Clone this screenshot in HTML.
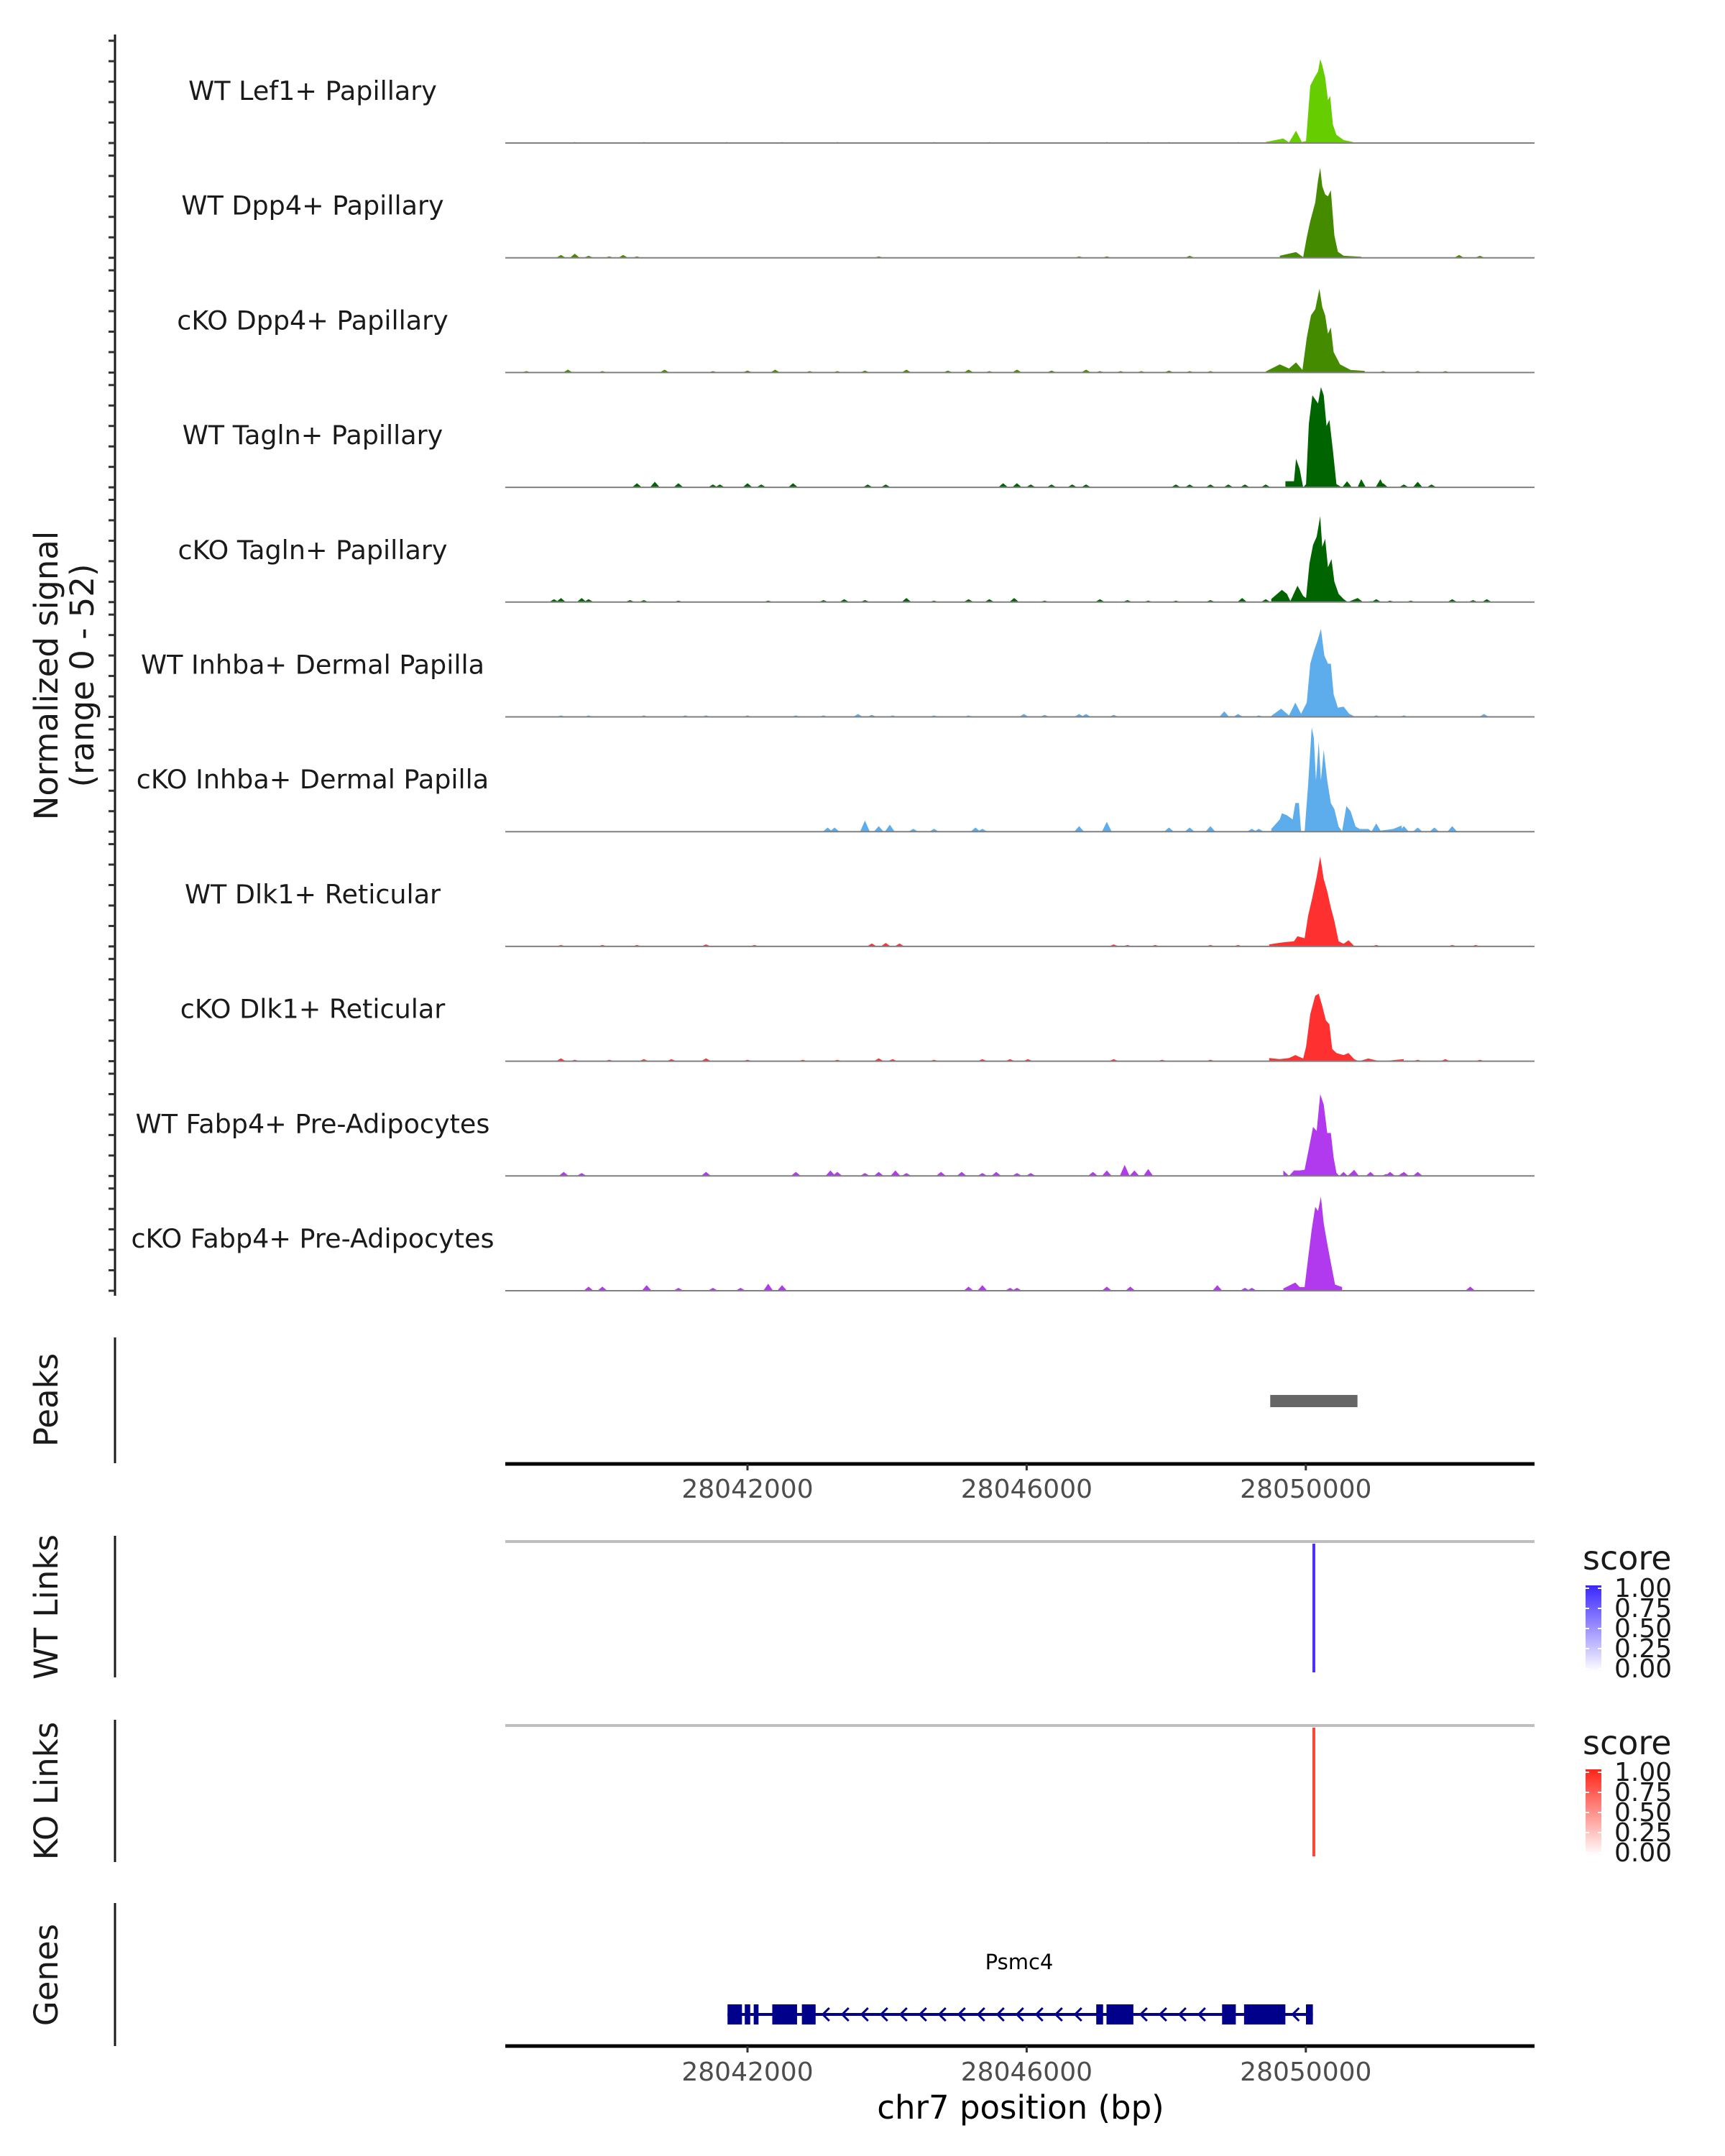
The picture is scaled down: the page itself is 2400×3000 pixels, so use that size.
<!DOCTYPE html>
<html><head><meta charset="utf-8"><style>
html,body{margin:0;padding:0;background:#fff;}
svg{display:block;font-family:"DejaVu Sans","Liberation Sans",sans-serif;}
</style></head><body>
<svg id="chart" width="2400" height="3000" viewBox="0 0 2400 3000" xmlns="http://www.w3.org/2000/svg">
<defs>
<linearGradient id="gwt" x1="0" y1="1" x2="0" y2="0"><stop offset="0" stop-color="#ffffff"/><stop offset="1" stop-color="#3a26ff"/></linearGradient>
<linearGradient id="gko" x1="0" y1="1" x2="0" y2="0"><stop offset="0" stop-color="#ffffff"/><stop offset="1" stop-color="#ff2418"/></linearGradient>
</defs>
<g font-size="45" fill="#1a1a1a" text-anchor="middle">
<text x="80" y="940" transform="rotate(-90 80 940)">Normalized signal</text>
<text x="130" y="940" transform="rotate(-90 130 940)">(range 0 - 52)</text>
</g>
<line x1="160" y1="48" x2="160" y2="1803" stroke="#1a1a1a" stroke-width="3"/>
<text x="80" y="1948" font-size="45" fill="#1a1a1a" text-anchor="middle" transform="rotate(-90 80 1948)">Peaks</text>
<line x1="160" y1="1861" x2="160" y2="2036" stroke="#1a1a1a" stroke-width="3"/>
<text x="80" y="2236" font-size="45" fill="#1a1a1a" text-anchor="middle" transform="rotate(-90 80 2236)">WT Links</text>
<line x1="160" y1="2137" x2="160" y2="2334" stroke="#1a1a1a" stroke-width="3"/>
<text x="80" y="2492" font-size="45" fill="#1a1a1a" text-anchor="middle" transform="rotate(-90 80 2492)">KO Links</text>
<line x1="160" y1="2393" x2="160" y2="2591" stroke="#1a1a1a" stroke-width="3"/>
<text x="80" y="2748" font-size="45" fill="#1a1a1a" text-anchor="middle" transform="rotate(-90 80 2748)">Genes</text>
<line x1="160" y1="2648" x2="160" y2="2847" stroke="#1a1a1a" stroke-width="3"/>
<text x="1420" y="2948" font-size="45" fill="#000" text-anchor="middle">chr7 position (bp)</text>
<text x="2202" y="2184" font-size="46" fill="#1a1a1a">score</text>
<text x="2202" y="2441" font-size="46" fill="#1a1a1a">score</text>
</svg>
<script>
// ---- track metadata ----
const trackNames = ["WT Lef1+ Papillary","WT Dpp4+ Papillary","cKO Dpp4+ Papillary","WT Tagln+ Papillary","cKO Tagln+ Papillary","WT Inhba+ Dermal Papilla","cKO Inhba+ Dermal Papilla","WT Dlk1+ Reticular","cKO Dlk1+ Reticular","WT Fabp4+ Pre-Adipocytes","cKO Fabp4+ Pre-Adipocytes"];
const trackColors = ["#66cd00","#458b00","#458b00","#006400","#006400","#5dadec","#5dadec","#ff3030","#ff3030","#b23aee","#b23aee"];
const xTicks = [28042000,28046000,28050000];
const yTicks = [0,10,20,30,40,50];

// ---- signal data (bp, normalized signal) ----
const lef1WtPos = [28049424,28049678,28049759,28049860,28049942,28050003,28050064,28050124,28050175,28050206,28050236,28050277,28050317,28050348,28050388,28050439,28050541,28050693,28050845];
const lef1WtVal = [0.5,2.2,0.3,6,0.5,1,28,32,35,41,38,32,21,23,9,4,1.5,0.3,0.2];
const lef1WtBumpPos = [28039525,28040515,28041703,28042495,28043287,28044673,28045465,28047148,28047742,28048039,28049029];
const lef1WtBumpVal = [0.5,0.5,0.5,0.5,0.5,0.5,0.5,0.5,0.5,0.5,0.5];

const dpp4WtPos = [28049627,28049860,28049962,28050013,28050064,28050135,28050175,28050206,28050236,28050277,28050317,28050358,28050409,28050459,28050541,28050794];
const dpp4WtVal = [1,2.8,0.3,10,18,27,38,44,35,31,30,33,11,3,1,0.5];
const dpp4WtBumpPos = [28039327,28039525,28039723,28040020,28040218,28040416,28043881,28046752,28047148,28048336,28052197,28052494];
const dpp4WtBumpVal = [1.4,2,1,0.7,1.4,0.7,0.7,0.7,0.7,1,1.4,1];

const dpp4KoPos = [28049424,28049627,28049759,28049860,28049952,28050013,28050074,28050135,28050195,28050236,28050277,28050317,28050358,28050399,28050490,28050642,28050845];
const dpp4KoVal = [0.5,4,2,5,1.3,17,28,31,41,32,28,19,22,10,4,1.3,0.8];
const dpp4KoBumpPos = [28038832,28039426,28039921,28040812,28041505,28042000,28042396,28042891,28043287,28043683,28044277,28044871,28045168,28045465,28045861,28046356,28046851,28047049,28047346,28047643,28048039,28048336,28048633,28051108,28051603,28051999];
const dpp4KoBumpVal = [0.7,1.4,0.7,1.4,0.7,1,1.4,0.7,0.7,1,1.4,1,1.4,0.7,1.4,1,1.4,0.7,0.7,0.7,1,0.7,0.7,0.7,0.7,0.7];

const taglnWtPos = [28049708,28049830,28049860,28049911,28049962,28050003,28050043,28050094,28050135,28050175,28050216,28050256,28050297,28050338,28050388,28050439,28050520,28050591,28050660,28050740,28050794,28050860,28051000,28051068,28051130];
const taglnWtVal = [3,3,14,9,0,1.5,31,45,43,41,49,45,30,33,18,1.5,0,3,0,0,4,0,0,4,0];
const taglnWtBumpPos = [28040416,28040673,28041010,28041505,28041604,28042000,28042198,28042653,28043723,28043980,28045663,28045861,28046059,28046356,28046653,28046851,28048138,28048336,28048633,28048890,28049128,28049425,28051108,28051405,28051603,28051801];
const taglnWtBumpVal = [2,2.7,2,1.4,1.4,2,1.4,2,1.4,1.4,2,2,1.4,1.4,1.4,1.4,1.4,1.4,1.4,1.4,1.4,1.4,2,1.4,2.7,1.4];

const taglnKoPos = [28049505,28049657,28049729,28049779,28049881,28049962,28050003,28050053,28050104,28050155,28050206,28050236,28050277,28050317,28050368,28050409,28050470,28050541,28050600,28050744,28050820,28050947];
const taglnKoVal = [1.5,6,4,0.5,8,3,2,19,28,32,42,27,31,17,21,10,4,1.5,0,2,0,0.5];
const taglnKoBumpPos = [28039228,28039327,28039624,28039723,28040317,28040515,28041010,28042297,28043089,28043386,28043683,28044277,28044673,28045168,28045465,28045821,28046257,28047049,28047445,28047742,28048138,28048633,28049088,28049425,28051009,28051207,28051504,28052098,28052395,28052593];
const taglnKoBumpVal = [1.4,2,2,1.4,1,1,0.7,0.7,1,1.4,1,2,0.7,1.4,1.4,2,0.7,1.4,1,0.7,0.7,1,2,1.4,1.4,0.7,0.7,1.4,1,1.4];

const inhbaWtPos = [28049505,28049647,28049759,28049850,28049932,28050013,28050064,28050114,28050165,28050216,28050266,28050317,28050358,28050399,28050459,28050541,28050622,28050693];
const inhbaWtVal = [0.5,4,0.7,7,1.5,7,26,32,37,43,30,26,26,11,4.5,5,1.5,0.3];
const inhbaWtBumpPos = [28039327,28039723,28040515,28041109,28041406,28042000,28042693,28043089,28043584,28043782,28044079,28044673,28045168,28045960,28046257,28046752,28046851,28047247,28048831,28049029,28049326,28051009,28051405,28052553];
const inhbaWtBumpVal = [0.7,0.7,0.7,0.7,0.7,0.7,0.7,0.7,1.4,1,0.7,0.7,0.7,1.4,1,1.4,1.4,1,2.7,1.4,0.7,0.7,0.7,1.4];

const inhbaKoPos = [28049505,28049627,28049657,28049729,28049810,28049850,28049901,28049932,28049982,28050033,28050084,28050114,28050145,28050185,28050216,28050256,28050307,28050358,28050409,28050470,28050520,28050581,28050642,28050713,28050774,28050896,28050947,28051251,28051373];
const inhbaKoVal = [1.3,6,9,8,6,14,14,0,0,23,51,46,25,44,25,40,25,14,11,2.5,0.2,12.5,10,2.5,1.3,1.3,0,1.3,3];
const inhbaKoBumpPos = [28043148,28043247,28043683,28043881,28044039,28044376,28044673,28045267,28045366,28046752,28047148,28048039,28048336,28048633,28049227,28049326,28051009,28051306,28051405,28051603,28051841,28052098];
const inhbaKoBumpVal = [2,2,5.4,2.7,3.4,1.4,1.4,2,1.4,2.7,4.8,2,2,2.7,1.4,1.4,4,2,2.7,2,2,2.7];

const dlk1WtPos = [28049475,28049678,28049830,28049881,28049982,28050033,28050094,28050155,28050206,28050256,28050307,28050358,28050409,28050470,28050541,28050612,28050693];
const dlk1WtVal = [1,2,2.5,5,4,15,24,34,44,33,27,19,12.5,2.5,1.3,3,0.2];
const dlk1WtBumpPos = [28039327,28039921,28040416,28041406,28042099,28043782,28043980,28044178,28047247,28047445,28047841,28048633,28049029,28051009,28052098,28052435];
const dlk1WtBumpVal = [0.7,0.7,0.7,1,0.7,1.4,1.7,1.4,1,0.7,0.7,0.7,0.7,0.7,0.7,0.7];

const dlk1KoPos = [28049475,28049627,28049759,28049850,28049962,28050003,28050064,28050135,28050185,28050236,28050287,28050338,28050378,28050439,28050541,28050612,28050693,28050760,28050896,28050997,28051100,28051403];
const dlk1KoVal = [1.5,1,1.5,3,1.3,7,23,32,33,27,20,18,6,4,3,4,1,0,1.3,0.5,0,1];
const dlk1KoBumpPos = [28039327,28039525,28040020,28040515,28040911,28041406,28042000,28042792,28043287,28043881,28044079,28044673,28045366,28045762,28046019,28047247,28047940,28048633,28051603,28051999,28052494];
const dlk1KoBumpVal = [1.4,0.7,0.7,1,1,1.4,0.7,0.7,0.7,1.4,1,0.7,1,1,1,1,0.7,0.7,0.7,1,0.7];

const fabp4WtPos = [28049678,28049759,28049830,28049911,28049982,28050053,28050104,28050155,28050206,28050256,28050307,28050358,28050399,28050439,28050480,28050541,28050600,28050693,28050760,28050860,28050926,28050990,28051090,28051149,28051210,28051320,28051383,28051450];
const fabp4WtVal = [2.7,0,2.7,2.7,3,15,24,22,40,35,21,21,9,1.5,0,2,0,3,0,0,2,0,0,1,0,0,1.5,0];
const fabp4WtBumpPos = [28039367,28039624,28041406,28042693,28043188,28043287,28043683,28043881,28044119,28044277,28044772,28045069,28045366,28045564,28045861,28046059,28046950,28047148,28047405,28047544,28047742,28051207,28051405,28051603];
const fabp4WtBumpVal = [2,1.4,2,2,2.7,2,1.4,2,2.7,1.4,2,2,1.4,2,1.4,1.4,2,2.7,5.4,2.7,3.4,2,2,2];

const fabp4KoPos = [28049678,28049850,28049911,28049982,28050033,28050084,28050135,28050175,28050216,28050256,28050307,28050368,28050419,28050520];
const fabp4KoVal = [1.1,4,1.8,1.8,16,30,41,39,46,33,23,12,3,1.8];
const fabp4KoBumpPos = [28039723,28039921,28040555,28041010,28041505,28041901,28042297,28042495,28045168,28045366,28045762,28045861,28047148,28047485,28048732,28049128,28049227,28052355];
const fabp4KoBumpVal = [2,2,2.7,1.4,1.4,1.4,3.4,2.7,2,2.7,1.4,1.4,2,2,2.7,1.4,1.4,2];

const mainPos = [lef1WtPos,dpp4WtPos,dpp4KoPos,taglnWtPos,taglnKoPos,inhbaWtPos,inhbaKoPos,dlk1WtPos,dlk1KoPos,fabp4WtPos,fabp4KoPos];
const mainVal = [lef1WtVal,dpp4WtVal,dpp4KoVal,taglnWtVal,taglnKoVal,inhbaWtVal,inhbaKoVal,dlk1WtVal,dlk1KoVal,fabp4WtVal,fabp4KoVal];
const bumpPos = [lef1WtBumpPos,dpp4WtBumpPos,dpp4KoBumpPos,taglnWtBumpPos,taglnKoBumpPos,inhbaWtBumpPos,inhbaKoBumpPos,dlk1WtBumpPos,dlk1KoBumpPos,fabp4WtBumpPos,fabp4KoBumpPos];
const bumpVal = [lef1WtBumpVal,dpp4WtBumpVal,dpp4KoBumpVal,taglnWtBumpVal,taglnKoBumpVal,inhbaWtBumpVal,inhbaKoBumpVal,dlk1WtBumpVal,dlk1KoBumpVal,fabp4WtBumpVal,fabp4KoBumpVal];

// ---- peaks, links, genes ----
const peakStarts = [28049490];
const peakEnds = [28050740];
const wtLinkPos = [28050115];
const wtLinkScore = [1.0];
const koLinkPos = [28050115];
const koLinkScore = [0.9];
const legendTicks = [1.00,0.75,0.50,0.25,0.00];
const geneName = "Psmc4";
const geneStart = 28041714;
const geneEnd = 28050101;
const exonStarts = [28041714,28041961,28042089,28042355,28042779,28046997,28047144,28048800,28049115,28050002];
const exonEnds = [28041921,28042039,28042158,28042710,28042976,28047095,28047529,28048997,28049707,28050101];

// ---- rendering ----
const NS = 'http://www.w3.org/2000/svg';
const svg = document.getElementById('chart');
function mk(tag, attrs, parent){const e=document.createElementNS(NS,tag);for(const k in attrs)e.setAttribute(k,attrs[k]);(parent||svg).appendChild(e);return e;}
const X0 = 28042000, XPX = 1040, PX_PER_BP = 0.0971;
const PLOT_L = 703, PLOT_R = 2135;
function xs(bp){return XPX + (bp - X0) * PX_PER_BP;}
const TRACK_TOP = 199, TRACK_STEP = 159.7, UNIT_PX = 2.846;
function baseY(i){return TRACK_TOP + i * TRACK_STEP;}
function ys(i, v){return baseY(i) - v * UNIT_PX;}

for (let i = 0; i < trackNames.length; i++) {
  const g = mk('g', {});
  
  
  const b = baseY(i);
  for (let k = 0; k < yTicks.length; k++) {
    const t = mk('line', {x1:151, x2:160, y1:ys(i,yTicks[k]), y2:ys(i,yTicks[k]), stroke:'#333', 'stroke-width':3}, g);
    
    
  }
  const P = mainPos[i], V = mainVal[i];
  let pts = xs(P[0]).toFixed(1) + ',' + b;
  for (let j = 0; j < P.length; j++) pts += ' ' + xs(P[j]).toFixed(1) + ',' + ys(i, V[j]).toFixed(1);
  pts += ' ' + xs(P[P.length-1]).toFixed(1) + ',' + b;
  const poly = mk('polygon', {points: pts, fill: trackColors[i]}, g);
  
  
  const BP = bumpPos[i], BV = bumpVal[i];
  for (let j = 0; j < BP.length; j++) {
    const tp = xs(BP[j]-70).toFixed(1)+','+b+' '+xs(BP[j]).toFixed(1)+','+ys(i,BV[j]).toFixed(1)+' '+xs(BP[j]+70).toFixed(1)+','+b;
    const bm = mk('polygon', {points: tp, fill: trackColors[i]}, g);
    
    
  }
  const bl = mk('line', {x1:PLOT_L, x2:PLOT_R, y1:b, y2:b, stroke:'#808080', 'stroke-width':2}, g);
  
  
  const lab = mk('text', {x:435, y:(b-60).toFixed(1), 'font-size':36.5, fill:'#1a1a1a', 'text-anchor':'middle'}, g);
  lab.textContent = trackNames[i];
  
  
}

function xAxis(y, labelY, name){
  const g = mk('g', {});
  
  
  mk('line', {x1:PLOT_L, x2:PLOT_R, y1:y, y2:y, stroke:'#000', 'stroke-width':5}, g);
  for (let k = 0; k < xTicks.length; k++) {
    const x = xs(xTicks[k]);
    mk('line', {x1:x, x2:x, y1:y, y2:y+9, stroke:'#333', 'stroke-width':3}, g);
    const t = mk('text', {x:x, y:labelY, 'font-size':36, fill:'#4d4d4d', 'text-anchor':'middle'}, g);
    t.textContent = xTicks[k];
    
    
  }
}
xAxis(2037, 2084, 'peaks-x-axis');
xAxis(2847, 2895, 'genes-x-axis');

for (let k = 0; k < peakStarts.length; k++) {
  const r = mk('rect', {x:xs(peakStarts[k]), y:1941, width:xs(peakEnds[k])-xs(peakStarts[k]), height:17, fill:'#666666'});
  
  
}

function linkTrack(topY, botY, pos, score, color, grad, legendTop, name){
  const base = mk('line', {x1:PLOT_L, x2:PLOT_R, y1:topY, y2:topY, stroke:'#bebebe', 'stroke-width':4});
  
  
  for (let k = 0; k < pos.length; k++) {
    const l = mk('line', {x1:xs(pos[k]), x2:xs(pos[k]), y1:topY+3, y2:botY, stroke:color, 'stroke-width':4, 'stroke-opacity':0.4+0.6*score[k]});
    
    
  }
  const bar = mk('rect', {x:2206, y:legendTop, width:22, height:120, fill:'url(#'+grad+')'});
  
  
  for (let k = 0; k < legendTicks.length; k++) {
    const y = legendTop + 4 + (1 - legendTicks[k]) * 112;
    mk('line', {x1:2206, x2:2211, y1:y, y2:y, stroke:'#fff', 'stroke-width':2});
    mk('line', {x1:2223, x2:2228, y1:y, y2:y, stroke:'#fff', 'stroke-width':2});
    const t = mk('text', {x:2246, y:y+12, 'font-size':36, fill:'#1a1a1a'});
    t.textContent = legendTicks[k].toFixed(2);
    
    
  }
}
linkTrack(2145, 2327, wtLinkPos, wtLinkScore, '#4a30ff', 'gwt', 2206, 'wt-links');
linkTrack(2401, 2583, koLinkPos, koLinkScore, '#ff3a26', 'gko', 2462, 'ko-links');

const GY = 2803;
const gl = mk('line', {x1:xs(geneStart), x2:xs(geneEnd), y1:GY, y2:GY, stroke:'#00008b', 'stroke-width':4});


for (let k = 0; k < exonStarts.length - 1; k++) {
  const a = xs(exonEnds[k]), z = xs(exonStarts[k+1]);
  for (let x = a + 14; x < z - 6; x += 27) {
    const c = mk('polyline', {points:(x+5)+','+(GY-9)+' '+(x-4)+','+GY+' '+(x+5)+','+(GY+9), fill:'none', stroke:'#00008b', 'stroke-width':3});
    
    
  }
}
for (let k = 0; k < exonStarts.length; k++) {
  const w = Math.max(4, xs(exonEnds[k]) - xs(exonStarts[k]));
  const e = mk('rect', {x:xs(exonStarts[k]), y:GY-14, width:w, height:28, fill:'#00008b'});
  
  
}
const gn = mk('text', {x:1418, y:2740, 'font-size':29, fill:'#000', 'text-anchor':'middle'});
gn.textContent = geneName;


</script>
</body></html>
